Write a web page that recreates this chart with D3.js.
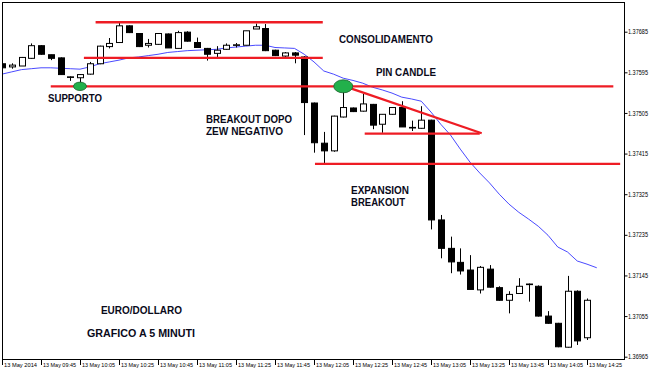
<!DOCTYPE html>
<html><head><meta charset="utf-8">
<script src="https://cdn.jsdelivr.net/npm/d3@7"></script>
<style>html,body{margin:0;padding:0;background:#fff;}svg{display:block;}</style>
</head><body>
<svg id="chart" width="650" height="371"></svg>
<script>
// ---- data (EUR/USD, 5-minute bars, 13 May 2014, 09:25 .. 14:25) ----
const open = [1.37614,1.37607,1.37609,1.37626,1.37654,1.37634,1.37627,1.37585,1.37583,1.37591,
1.37614,1.37652,1.37661,1.37698,1.37681,1.37655,1.37657,1.37680,1.37648,1.37684,
1.37661,1.37648,1.37637,1.37646,1.37655,1.37655,1.37691,1.37692,1.37644,1.37631,
1.37638,1.37629,1.37527,1.37438,1.37421,1.37496,1.37516,1.37509,1.37524,1.37480,
1.37502,1.37517,1.37473,1.37471,1.37489,1.37268,1.37205,1.37174,1.37157,1.37113,
1.37159,1.37118,1.37090,1.37105,1.37126,1.37121,1.37055,1.37039,1.36986,1.37110,
1.37007];
const close = [1.37605,1.37611,1.37628,1.37654,1.37635,1.37626,1.37590,1.37585,1.37590,1.37614,
1.37653,1.37659,1.37698,1.37683,1.37652,1.37659,1.37681,1.37649,1.37683,1.37664,
1.37650,1.37635,1.37644,1.37655,1.37656,1.37687,1.37696,1.37643,1.37632,1.37638,
1.37633,1.37528,1.37439,1.37421,1.37498,1.37517,1.37508,1.37525,1.37478,1.37502,
1.37517,1.37474,1.37473,1.37489,1.37268,1.37205,1.37175,1.37155,1.37114,1.37163,
1.37119,1.37090,1.37103,1.37121,1.37125,1.37055,1.37039,1.36987,1.37110,1.37000,
1.37090];
const high = [1.37618,1.37615,1.37629,1.37659,1.37655,1.37634,1.37628,1.37586,1.37591,1.37618,
1.37654,1.37671,1.37707,1.37699,1.37682,1.37669,1.37682,1.37681,1.37687,1.37686,
1.37672,1.37649,1.37653,1.37659,1.37660,1.37687,1.37703,1.37702,1.37645,1.37640,
1.37640,1.37631,1.37528,1.37463,1.37499,1.37563,1.37517,1.37547,1.37525,1.37502,
1.37518,1.37531,1.37488,1.37520,1.37490,1.37279,1.37231,1.37205,1.37190,1.37166,
1.37168,1.37121,1.37110,1.37139,1.37127,1.37123,1.37066,1.37040,1.37144,1.37112,
1.37094];
const low = [1.37604,1.37603,1.37609,1.37625,1.37634,1.37622,1.37590,1.37576,1.37567,1.37590,
1.37613,1.37648,1.37661,1.37682,1.37651,1.37650,1.37656,1.37649,1.37648,1.37663,
1.37649,1.37621,1.37629,1.37645,1.37650,1.37655,1.37691,1.37642,1.37631,1.37629,
1.37615,1.37456,1.37417,1.37393,1.37419,1.37495,1.37507,1.37508,1.37469,1.37461,
1.37501,1.37474,1.37465,1.37470,1.37247,1.37183,1.37150,1.37147,1.37114,1.37105,
1.37118,1.37089,1.37061,1.37105,1.37087,1.37054,1.37038,1.36986,1.36985,1.36991,
1.37002];
// moving average (blue line), one value per bar, running one bar past the last candle
const ma = [1.37591,1.37596,1.37601,1.37603,1.37605,1.37605,1.37604,1.37603,1.37602,1.37607,
1.37614,1.37618,1.37622,1.37627,1.37629,1.37632,1.37635,1.37639,1.37641,1.37643,
1.37644,1.37645,1.37646,1.37649,1.37651,1.37653,1.37655,1.37655,1.37650,1.37649,
1.37648,1.37635,1.37618,1.37598,1.37591,1.37582,1.37577,1.37571,1.37562,1.37556,
1.37549,1.37540,1.37536,1.37531,1.37507,1.37480,1.37456,1.37425,1.37396,1.37372,
1.37350,1.37325,1.37303,1.37285,1.37270,1.37254,1.37234,1.37208,1.37197,1.37177,
1.37170,1.37162];
const xTickLabels = ["13 May 2014","13 May 09:45","13 May 10:05","13 May 10:25","13 May 10:45",
"13 May 11:05","13 May 11:25","13 May 11:45","13 May 12:05","13 May 12:25","13 May 12:45",
"13 May 13:05","13 May 13:25","13 May 13:45","13 May 14:05","13 May 14:25"];
const yTickValues = [1.36965,1.37055,1.37145,1.37235,1.37325,1.37415,1.37505,1.37595,1.37685];

// annotation levels (bar index, price)
const hLines = [
  {b0: 9.6, b1: 32.9, p: 1.37706, w: 2.4},   // top of consolidation
  {b0: 8.4, b1: 32.9, p: 1.37627, w: 2.4},   // bottom of consolidation
  {b0: 5.0, b1: 62.7, p: 1.37564, w: 2.2},   // support
  {b0: 37.2, b1: 49.0, p: 1.37459, w: 2.2},  // base of triangle
  {b0: 32.1, b1: 63.4, p: 1.37392, w: 2.2}   // breakout level
];
const trendLines = [{b0: 35.7, p0: 1.37560, b1: 49.2, p1: 1.37460}];
const markers = [{b: 8.0, p: 1.37564, rx: 6.5, ry: 4.2}, {b: 35.0, p: 1.37564, rx: 9.5, ry: 6.5}];
const notes = [
  {t: "CONSOLIDAMENTO", b: 34.56, p: 1.37660, w: 94},
  {t: "PIN CANDLE", b: 38.36, p: 1.37587, w: 60},
  {t: "SUPPORTO", b: 4.72, p: 1.37529, w: 54},
  {t: "BREAKOUT DOPO", b: 20.92, p: 1.37483, w: 86},
  {t: "ZEW NEGATIVO", b: 20.92, p: 1.37456, w: 77},
  {t: "EXPANSION", b: 35.8, p: 1.37325, w: 58},
  {t: "BREAKOUT", b: 35.8, p: 1.37299, w: 54},
  {t: "EURO/DOLLARO", b: 10.15, p: 1.37060, w: 81},
  {t: "GRAFICO A 5 MINUTI", b: 8.72, p: 1.37009, w: 108}
];

// ---- drawing ----
const svg = d3.select("#chart");
const L = 2, R = 624, T = 2, B = 359;
const x = d3.scaleLinear().domain([0, 60]).range([2, 587]);
const y = d3.scaleLinear().domain([1.36965, 1.37685]).range([356.7, 31.7]);

svg.append("rect").attr("width", 650).attr("height", 371).attr("fill", "#fff");

// frame
svg.append("rect").attr("x", L + 0.5).attr("y", T + 0.5).attr("width", R - L).attr("height", B - T)
  .attr("fill", "none").attr("stroke", "#000").attr("stroke-width", 1);

svg.append("clipPath").attr("id", "plot").append("rect")
  .attr("x", L + 1).attr("y", T + 1).attr("width", R - L - 1).attr("height", B - T - 1);

const plot = svg.append("g").attr("clip-path", "url(#plot)");

// y axis (right)
const yAxis = d3.axisRight(y).tickValues(yTickValues).tickSize(3).tickFormat(d3.format(".5f"));
const ya = svg.append("g").attr("transform", `translate(${R + 0.5},0)`).call(yAxis);
ya.select(".domain").remove();
ya.selectAll("line").attr("stroke", "#000");
ya.selectAll("text").attr("x", 3.5).attr("font-family", "'Liberation Sans', Arial, sans-serif")
  .attr("font-size", 6.4).attr("fill", "#000")
  .attr("textLength", 20).attr("lengthAdjust", "spacingAndGlyphs");

// x axis (bottom)
const xt = svg.append("g");
const tickIdx = d3.range(0, 61, 4);
xt.selectAll("line").data(tickIdx).join("line")
  .attr("x1", d => Math.round(x(d)) + 0.5).attr("x2", d => Math.round(x(d)) + 0.5)
  .attr("y1", B).attr("y2", B + 6).attr("stroke", "#000");
xt.selectAll("text").data(tickIdx).join("text")
  .attr("x", d => Math.round(x(d)) + 2).attr("y", B + 7.5)
  .attr("font-family", "'Liberation Sans', Arial, sans-serif").attr("font-size", 6.2)
  .attr("fill", "#000")
  .attr("textLength", 33).attr("lengthAdjust", "spacingAndGlyphs")
  .text((d, i) => xTickLabels[i]);

// moving average
plot.append("path").datum(ma)
  .attr("d", d3.line().x((d, i) => x(i)).y(d => y(d)))
  .attr("fill", "none").attr("stroke", "#3535ff").attr("stroke-width", 0.9);

// candles
const idx = d3.range(open.length);
const bw = 6;
const cg = plot.append("g");
cg.selectAll("line.wick").data(idx).join("line").attr("class", "wick")
  .attr("x1", i => Math.round(x(i)) + 0.5).attr("x2", i => Math.round(x(i)) + 0.5)
  .attr("y1", i => y(high[i])).attr("y2", i => y(low[i]))
  .attr("stroke", "#000").attr("stroke-width", 1);
cg.selectAll("rect.body").data(idx).join("rect").attr("class", "body")
  .attr("x", i => Math.round(x(i)) - bw / 2 + 0.5)
  .attr("y", i => Math.min(y(open[i]), y(close[i])))
  .attr("width", bw)
  .attr("height", i => Math.max(0.6, Math.abs(y(open[i]) - y(close[i]))))
  .attr("fill", i => close[i] < open[i] ? "#000" : "#fff")
  .attr("stroke", "#000").attr("stroke-width", 1);

// annotations
const red = "#ee1c24";
plot.selectAll("line.h").data(hLines).join("line").attr("class", "h")
  .attr("x1", d => x(d.b0)).attr("x2", d => x(d.b1))
  .attr("y1", d => y(d.p)).attr("y2", d => y(d.p))
  .attr("stroke", red).attr("stroke-width", d => d.w);
plot.selectAll("line.t").data(trendLines).join("line").attr("class", "t")
  .attr("x1", d => x(d.b0)).attr("x2", d => x(d.b1))
  .attr("y1", d => y(d.p0)).attr("y2", d => y(d.p1))
  .attr("stroke", red).attr("stroke-width", 2.2);
plot.selectAll("ellipse").data(markers).join("ellipse")
  .attr("cx", d => x(d.b)).attr("cy", d => y(d.p))
  .attr("rx", d => d.rx).attr("ry", d => d.ry)
  .attr("fill", "#22b04b").attr("stroke", "#1c5f2c").attr("stroke-width", 0.8);

plot.selectAll("text.note").data(notes).join("text").attr("class", "note")
  .attr("x", d => x(d.b)).attr("y", d => y(d.p))
  .attr("font-family", "'Liberation Sans', Arial, sans-serif").attr("font-weight", "bold")
  .attr("font-size", 10.5).attr("fill", "#0a0a1a")
  .attr("textLength", d => d.w).attr("lengthAdjust", "spacingAndGlyphs")
  .text(d => d.t);
</script>
</body></html>
